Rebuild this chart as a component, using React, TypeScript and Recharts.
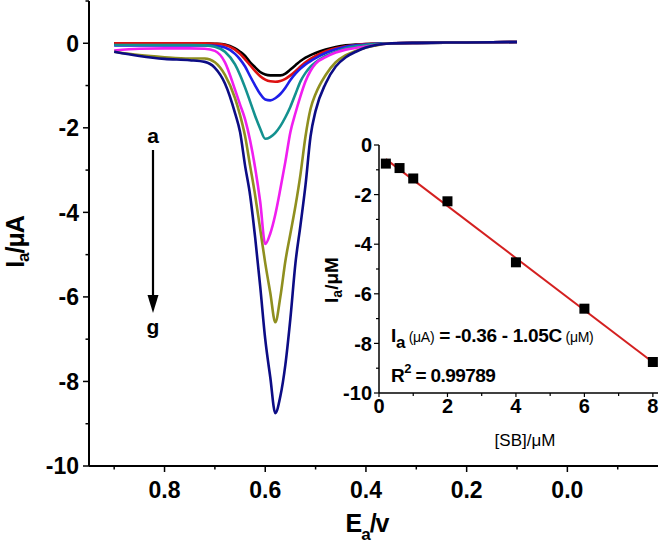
import React from 'react';
import {
  LineChart,
  ComposedChart,
  Line,
  Scatter,
  XAxis,
  YAxis,
} from 'recharts';

const FONT = "'Liberation Sans', Arial, sans-serif";

// potential (V) sampled along the sweep
const potential = [
  0.9, 0.85, 0.8, 0.75, 0.72, 0.7, 0.68, 0.66, 0.65, 0.64, 0.63, 0.62, 0.61, 0.6, 0.59, 0.58, 0.57,
  0.56, 0.55, 0.54, 0.53, 0.52, 0.51, 0.5, 0.48, 0.46, 0.44, 0.42, 0.4, 0.38, 0.36, 0.3, 0.2, 0.1,
];

// currents (µA) for curves a..g
const curveA = [
  0, 0, 0, 0, 0, -0.01, -0.03, -0.12, -0.2, -0.3, -0.45, -0.57, -0.68, -0.74, -0.76, -0.76, -0.76,
  -0.72, -0.62, -0.52, -0.42, -0.34, -0.28, -0.23, -0.15, -0.09, -0.05, -0.03, -0.02, -0.01, 0, 0.01, 0.02, 0.03,
];
const curveB = [
  0, 0, 0, 0, 0, -0.01, -0.04, -0.15, -0.25, -0.38, -0.52, -0.66, -0.78, -0.86, -0.9, -0.91, -0.89,
  -0.84, -0.76, -0.66, -0.55, -0.45, -0.37, -0.3, -0.19, -0.12, -0.07, -0.04, -0.02, -0.01, 0, 0.01, 0.02, 0.03,
];
const curveC = [
  -0.05, -0.05, -0.05, -0.05, -0.05, -0.06, -0.1, -0.25, -0.38, -0.55, -0.78, -1.0, -1.2, -1.33, -1.35, -1.3, -1.2,
  -1.05, -0.87, -0.72, -0.6, -0.5, -0.42, -0.35, -0.23, -0.14, -0.08, -0.05, -0.03, -0.01, 0, 0.01, 0.02, 0.03,
];
const curveD = [
  -0.04, -0.04, -0.04, -0.04, -0.05, -0.08, -0.2, -0.5, -0.75, -1.05, -1.38, -1.72, -2.02, -2.26, -2.22, -2.12, -1.96,
  -1.75, -1.5, -1.2, -0.9, -0.7, -0.55, -0.45, -0.3, -0.2, -0.12, -0.07, -0.04, -0.02, 0, 0.01, 0.02, 0.03,
];
const curveE = [
  -0.17, -0.13, -0.12, -0.12, -0.13, -0.18, -0.45, -1.1, -1.45, -1.8, -2.3, -2.95, -3.75, -4.75, -4.5, -4.05, -3.45,
  -2.8, -2.1, -1.65, -1.25, -0.9, -0.65, -0.48, -0.33, -0.22, -0.15, -0.11, -0.08, -0.04, -0.01, 0.01, 0.02, 0.03,
];
const curveF = [
  -0.2, -0.28, -0.33, -0.36, -0.36, -0.45, -0.75, -1.3, -1.7, -2.2, -2.9, -3.6, -4.4, -5.2, -5.9, -6.6, -6.0,
  -5.15, -4.5, -3.85, -3.1, -2.2, -1.55, -1.2, -0.75, -0.45, -0.28, -0.18, -0.1, -0.05, -0.01, 0.01, 0.02, 0.03,
];
const curveG = [
  -0.2, -0.3, -0.37, -0.4, -0.44, -0.58, -0.95, -1.65, -2.1, -2.9, -3.6, -4.6, -5.75, -7.0, -7.9, -8.75, -8.35,
  -7.6, -6.5, -5.2, -4.3, -3.35, -2.2, -1.6, -0.95, -0.55, -0.33, -0.2, -0.1, -0.04, -0.01, 0.01, 0.02, 0.03,
];

const curveKeys = ['ca', 'cb', 'cc', 'cd', 'ce', 'cf', 'cg'];
const curveColors = ['#000000', '#dd1111', '#1e1ee8', '#13918f', '#f01ef0', '#8f8f1f', '#0c0c85'];
const curveValues = [curveA, curveB, curveC, curveD, curveE, curveF, curveG];

// calibration inset
const concentration = [0.2, 0.6, 1, 2, 4, 6, 8];
const peakCurrent = [-0.75, -0.93, -1.35, -2.27, -4.73, -6.6, -8.75];
const fitEnds = [0.2, 8];
const fitCurrent = [-0.57, -8.76];

const mainYTicks = [1, 0, -1, -2, -3, -4, -5, -6, -7, -8, -9, -10];
const mainXTicks = [0.9, 0.8, 0.7, 0.6, 0.5, 0.4, 0.3, 0.2, 0.1, 0, -0.1];
const insetYTicks = [0, -1, -2, -3, -4, -5, -6, -7, -8, -9, -10];
const insetXTicks = [0, 1, 2, 3, 4, 5, 6, 7, 8];

const mainData = potential.map((pot, k) => {
  const row: Record<string, number> = { pot };
  curveKeys.forEach((key, j) => {
    row[key] = curveValues[j][k];
  });
  return row;
});
const insetPoints = concentration.map((c, k) => ({ c, i: peakCurrent[k] }));
const fitLine = fitEnds.map((c, k) => ({ c, i: fitCurrent[k] }));

const MainYTick = ({ x, y, payload }: any) => {
  const v = payload.value;
  const major = v % 2 === 0;
  return (
    <g>
      <line x1={x} x2={x - (major ? 6 : 3.5)} y1={y} y2={y} stroke="#000" strokeWidth={1.5} />
      {major && (
        <text x={x - 10} y={y} dy="0.36em" textAnchor="end" fontSize={23} fontWeight="bold" fontFamily={FONT} fill="#000">
          {v}
        </text>
      )}
    </g>
  );
};

const MainXTick = ({ x, y, payload }: any) => {
  const v = payload.value;
  const major = Math.round(v * 10) % 2 === 0;
  return (
    <g>
      <line x1={x} x2={x} y1={y} y2={y + (major ? 6 : 3.5)} stroke="#000" strokeWidth={1.5} />
      {major && (
        <text x={x} y={y + 32} textAnchor="middle" fontSize={23} fontWeight="bold" fontFamily={FONT} fill="#000">
          {v.toFixed(1)}
        </text>
      )}
    </g>
  );
};

const InsetYTick = ({ x, y, payload }: any) => {
  const v = payload.value;
  const major = v % 2 === 0;
  return (
    <g>
      <line x1={x} x2={x - (major ? 5 : 3)} y1={y} y2={y} stroke="#000" strokeWidth={1.2} />
      {major && (
        <text x={x - 7} y={y} dy="0.36em" textAnchor="end" fontSize={20} fontWeight="bold" fontFamily={FONT} fill="#000">
          {v}
        </text>
      )}
    </g>
  );
};

const InsetXTick = ({ x, y, payload }: any) => {
  const v = payload.value;
  const major = v % 2 === 0;
  return (
    <g>
      <line x1={x} x2={x} y1={y} y2={y + (major ? 4 : 3)} stroke="#000" strokeWidth={1.2} />
      {major && (
        <text x={x} y={y + 20} textAnchor="middle" fontSize={20} fontWeight="bold" fontFamily={FONT} fill="#000">
          {v}
        </text>
      )}
    </g>
  );
};

const SquareDot = ({ cx, cy }: any) => <rect x={cx - 5} y={cy - 5} width={10} height={10} fill="#000" />;

export default function App() {
  return (
    <div style={{ position: 'absolute', left: 0, top: 0, width: 669, height: 548, background: '#fff' }}>
      <LineChart width={669} height={548} data={mainData} margin={{ top: 1, right: 11, bottom: 0, left: 0 }}>
        <XAxis
          type="number"
          dataKey="pot"
          domain={[-0.18, 0.95]}
          reversed
          ticks={mainXTicks}
          interval={0}
          height={82}
          tickSize={0}
          tickMargin={0}
          tickLine={false}
          tick={<MainXTick />}
          axisLine={{ stroke: '#000', strokeWidth: 2 }}
          allowDataOverflow
        />
        <YAxis
          type="number"
          domain={[-10, 1]}
          ticks={mainYTicks}
          interval={0}
          width={89}
          tickSize={0}
          tickMargin={0}
          tickLine={false}
          tick={<MainYTick />}
          axisLine={{ stroke: '#000', strokeWidth: 2 }}
          allowDataOverflow
        />
        {curveKeys.map((key, j) => (
          <Line
            key={key}
            type="monotone"
            dataKey={key}
            stroke={curveColors[j]}
            strokeWidth={2.6}
            dot={false}
            isAnimationActive={false}
          />
        ))}
      </LineChart>

      <div style={{ position: 'absolute', left: 330, top: 120 }}>
        <ComposedChart width={339} height={300} margin={{ top: 25, right: 11, bottom: 0, left: 0 }}>
          <XAxis
            type="number"
            dataKey="c"
            domain={[0, 8.15]}
            ticks={insetXTicks}
            interval={0}
            height={27}
            tickSize={0}
            tickMargin={0}
            tickLine={false}
            tick={<InsetXTick />}
            axisLine={{ stroke: '#000', strokeWidth: 1.5 }}
            allowDataOverflow
          />
          <YAxis
            type="number"
            dataKey="i"
            domain={[-10, 0]}
            ticks={insetYTicks}
            interval={0}
            width={49}
            tickSize={0}
            tickMargin={0}
            tickLine={false}
            tick={<InsetYTick />}
            axisLine={{ stroke: '#000', strokeWidth: 1.5 }}
            allowDataOverflow
          />
          <Line data={fitLine} dataKey="i" stroke="#d42020" strokeWidth={2} dot={false} isAnimationActive={false} />
          <Scatter data={insetPoints} dataKey="i" fill="#000" shape={<SquareDot />} isAnimationActive={false} />
        </ComposedChart>
      </div>

      <svg
        width={669}
        height={548}
        style={{ position: 'absolute', left: 0, top: 0, pointerEvents: 'none' }}
        fontFamily={FONT}
      >
        <text transform="translate(24,242) rotate(-90)" textAnchor="middle" fontSize={25} fontWeight="bold" letterSpacing={-1}>
          I<tspan dy={5} fontSize={17}>a</tspan>
          <tspan dy={-5}>/μA</tspan>
        </text>
        <text x={367} y={532} textAnchor="middle" fontSize={25} fontWeight="bold" letterSpacing={-1}>
          E<tspan dy={8} fontSize={17}>a</tspan>
          <tspan dy={-8}>/v</tspan>
        </text>

        <line x1={153} y1={150} x2={153} y2={298} stroke="#000" strokeWidth={2.2} />
        <polygon points="147.5,295 158.5,295 153,313" fill="#000" />
        <text x={153} y={143} textAnchor="middle" fontSize={21} fontWeight="bold">a</text>
        <text x={153} y={334} textAnchor="middle" fontSize={21} fontWeight="bold">g</text>

        <text transform="translate(338,280) rotate(-90)" textAnchor="middle" fontSize={19} fontWeight="bold">
          I<tspan dy={4} fontSize={14}>a</tspan>
          <tspan dy={-4}>/μM</tspan>
        </text>
        <text x={525} y={446} textAnchor="middle" fontSize={17}>[SB]/μM</text>

        <text x={391} y={342} fontSize={19} fontWeight="bold" letterSpacing={-0.3}>
          I<tspan dy={6} fontSize={17}>a</tspan>
          <tspan dy={-6} fontSize={14} fontWeight="normal"> (μA)</tspan>
          <tspan> = -0.36 - 1.05C</tspan>
          <tspan fontSize={14} fontWeight="normal"> (μM)</tspan>
        </text>
        <text x={391} y={382} fontSize={19} fontWeight="bold" letterSpacing={-0.6}>
          R<tspan dy={-9} fontSize={13}>2</tspan>
          <tspan dy={9}> = 0.99789</tspan>
        </text>
      </svg>
    </div>
  );
}
